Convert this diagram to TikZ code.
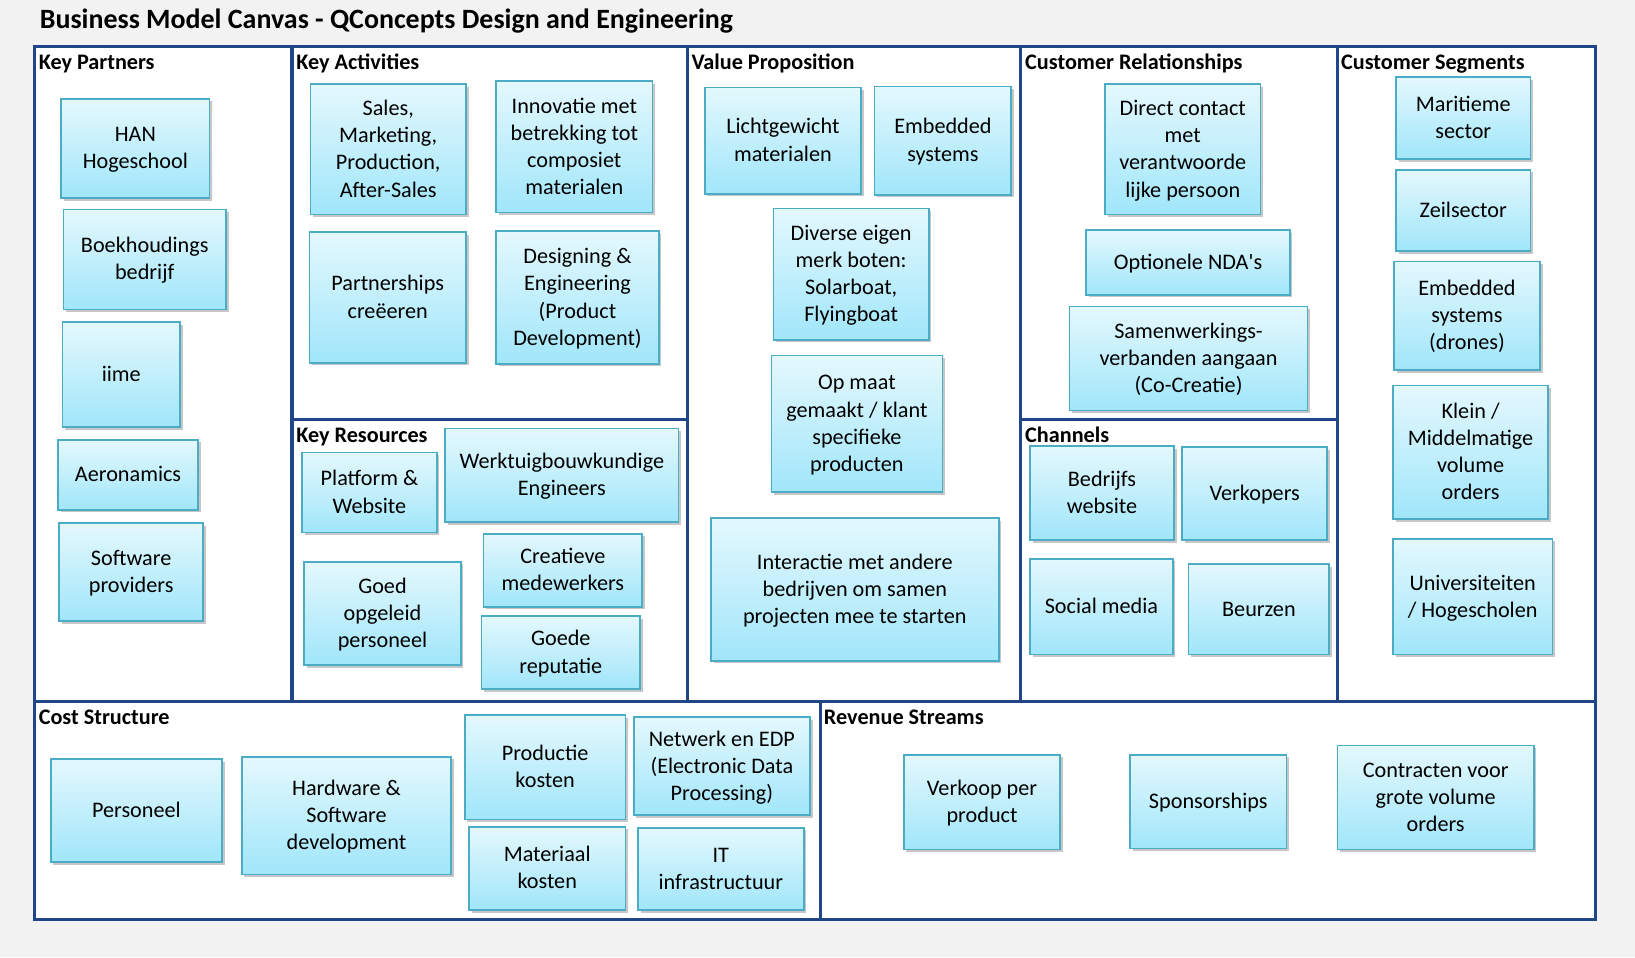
\documentclass[tikz,border=0pt]{standalone}
\usepackage{fontspec}
\setmainfont{Carlito}
\usetikzlibrary{shadows}
\definecolor{bggray}{RGB}{242,242,242}
\definecolor{canvasblue}{RGB}{33,70,135}
\definecolor{boxborder}{RGB}{75,172,198}
\definecolor{boxtop}{RGB}{228,248,253}
\definecolor{boxbot}{RGB}{160,230,250}
\newcommand\mybox[6]{\node[bmcbox, minimum width={(#4-#2)*1pt}, minimum height={(#5-#3)*1pt}, anchor=north west] (#1) at (#2,#3) {\raisebox{-1.5pt}[\height][\depth]{\begin{tabular}{@{}c@{}}#6\end{tabular}}};}
\newcommand\mylabel[4]{\node[seclabel] (#1) at (#2,#3) {#4};}
\begin{document}
\begin{tikzpicture}[x=1pt,y=-1pt,
  bmcbox/.style={draw=boxborder, line width=1.6pt, top color=boxtop, bottom color=boxbot,
    drop shadow={shadow xshift=2.5pt, shadow yshift=-2.5pt, fill=black, opacity=0.22},
    inner sep=0pt, font=\fontsize{21.3}{26}\selectfont},
  seclabel/.style={anchor=base west, inner sep=0pt, font=\fontsize{21.3}{22}\selectfont\bfseries},
  canvasline/.style={draw=canvasblue, line width=3pt}]
\useasboundingbox (0,0) rectangle (1568,918);
\fill[bggray] (0,0) rectangle (1568,918);
% title
\node[anchor=base west, inner sep=0pt, font=\fontsize{26.8}{28}\selectfont\bfseries] (title) at (38,27) {Business Model Canvas - QConcepts Design and Engineering};
% canvas
\fill[white] (33,45) rectangle (1530,882);
\coordinate (c1) at (280,45); \coordinate (c1b) at (280,673);
\coordinate (c2) at (659,45); \coordinate (c2b) at (659,673);
\coordinate (c3) at (979,45); \coordinate (c3b) at (979,673);
\coordinate (c4) at (1283,45); \coordinate (c4b) at (1283,673);
\coordinate (h1a) at (33,673); \coordinate (h1b) at (1530,673);
\coordinate (v5a) at (787,673); \coordinate (v5b) at (787,882);
\coordinate (kra) at (280,402); \coordinate (krb) at (659,402);
\coordinate (cha) at (979,402); \coordinate (chb) at (1283,402);
\draw[canvasline] (c1) -- (c1b);
\draw[canvasline] (c2) -- (c2b);
\draw[canvasline] (c3) -- (c3b);
\draw[canvasline] (c4) -- (c4b);
\draw[canvasline] (h1a) -- (h1b);
\draw[canvasline] (v5a) -- (v5b);
\draw[canvasline] (kra) -- (krb);
\draw[canvasline] (cha) -- (chb);
\draw[canvasline] (33,45) rectangle (1530,882);
% section labels
\mylabel{lkp}{37}{67}{Key Partners}
\mylabel{lka}{284}{67}{Key Activities}
\mylabel{lvp}{663}{67}{Value Proposition}
\mylabel{lcr}{983}{67}{Customer Relationships}
\mylabel{lcs}{1286}{67}{Customer Segments}
\mylabel{lkr}{284}{424}{Key Resources}
\mylabel{lch}{983}{424}{Channels}
\mylabel{lcost}{37}{695}{Cost Structure}
\mylabel{lrev}{790}{695}{Revenue Streams}
% key partners
\mybox{han}{58}{94}{200}{189}{HAN\\Hogeschool}
\mybox{boek}{60}{200}{216}{296}{Boekhoudings\\bedrijf}
\mybox{iime}{59}{308}{172}{409}{iime}
\mybox{aero}{55}{421}{189}{488}{Aeronamics}
\mybox{soft}{56}{501}{194}{595}{Software\\providers}
% key activities
\mybox{sales}{297}{80}{446}{205}{Sales,\\Marketing,\\Production,\\After-Sales}
\mybox{innov}{475}{77}{625}{203}{Innovatie met\\betrekking tot\\composiet\\materialen}
\mybox{partn}{296}{222}{446}{347}{Partnerships\\creëeren}
\mybox{design}{475}{221}{631}{348}{Designing \&\\Engineering\\(Product\\Development)}
% key resources
\mybox{platf}{289}{433}{418}{510}{Platform \&\\Website}
\mybox{werkt}{426}{410}{650}{500}{Werktuigbouwkundige\\Engineers}
\mybox{goed}{291}{538}{441}{637}{Goed\\opgeleid\\personeel}
\mybox{creat}{463}{511}{615}{581}{Creatieve\\medewerkers}
\mybox{reput}{461}{590}{613}{660}{Goede\\reputatie}
% value proposition
\mybox{licht}{675}{83}{825}{185}{Lichtgewicht\\materialen}
\mybox{embvp}{838}{82}{969}{186}{Embedded\\systems}
\mybox{boten}{741}{199}{890}{325}{Diverse eigen\\merk boten:\\Solarboat,\\Flyingboat}
\mybox{opmaat}{739}{340}{903}{471}{Op maat\\gemaakt / klant\\specifieke\\producten}
\mybox{inter}{681}{496}{957}{633}{Interactie met andere\\bedrijven om samen\\projecten mee te starten}
% customer relationships
\mybox{direct}{1059}{80}{1208}{205}{Direct contact\\met\\verantwoorde\\lijke persoon}
\mybox{nda}{1041}{220}{1236}{282}{Optionele NDA\textquotesingle s}
\mybox{samen}{1025}{293}{1253}{393}{Samenwerkings-\\verbanden aangaan\\(Co-Creatie)}
% channels
\mybox{bweb}{987}{427}{1125}{517}{Bedrijfs\\website}
\mybox{verk}{1133}{428}{1272}{517}{Verkopers}
\mybox{social}{987}{535}{1124}{627}{Social media}
\mybox{beurz}{1139}{540}{1274}{627}{Beurzen}
% customer segments
\mybox{marit}{1338}{73}{1467}{152}{Maritieme\\sector}
\mybox{zeil}{1338}{162}{1467}{240}{Zeilsector}
\mybox{embcs}{1336}{250}{1476}{354}{Embedded\\systems\\(drones)}
\mybox{klein}{1335}{369}{1484}{497}{Klein /\\Middelmatige\\volume\\orders}
\mybox{univ}{1335}{516}{1488}{627}{Universiteiten\\/ Hogescholen}
% cost structure
\mybox{pers}{48}{727}{212}{826}{Personeel}
\mybox{hard}{231}{725}{432}{838}{Hardware \&\\Software\\development}
\mybox{prod}{445}{685}{599}{785}{Productie\\kosten}
\mybox{netw}{607}{687}{776}{781}{Netwerk en EDP\\(Electronic Data\\Processing)}
\mybox{mat}{449}{792}{599}{872}{Materiaal\\kosten}
\mybox{itinf}{611}{793}{770}{872}{IT\\infrastructuur}
% revenue streams
\mybox{verkp}{866}{723}{1016}{814}{Verkoop per\\product}
\mybox{spons}{1083}{723}{1233}{813}{Sponsorships}
\mybox{contr}{1282}{714}{1470}{814}{Contracten voor\\grote volume\\orders}
\end{tikzpicture}
\end{document}
